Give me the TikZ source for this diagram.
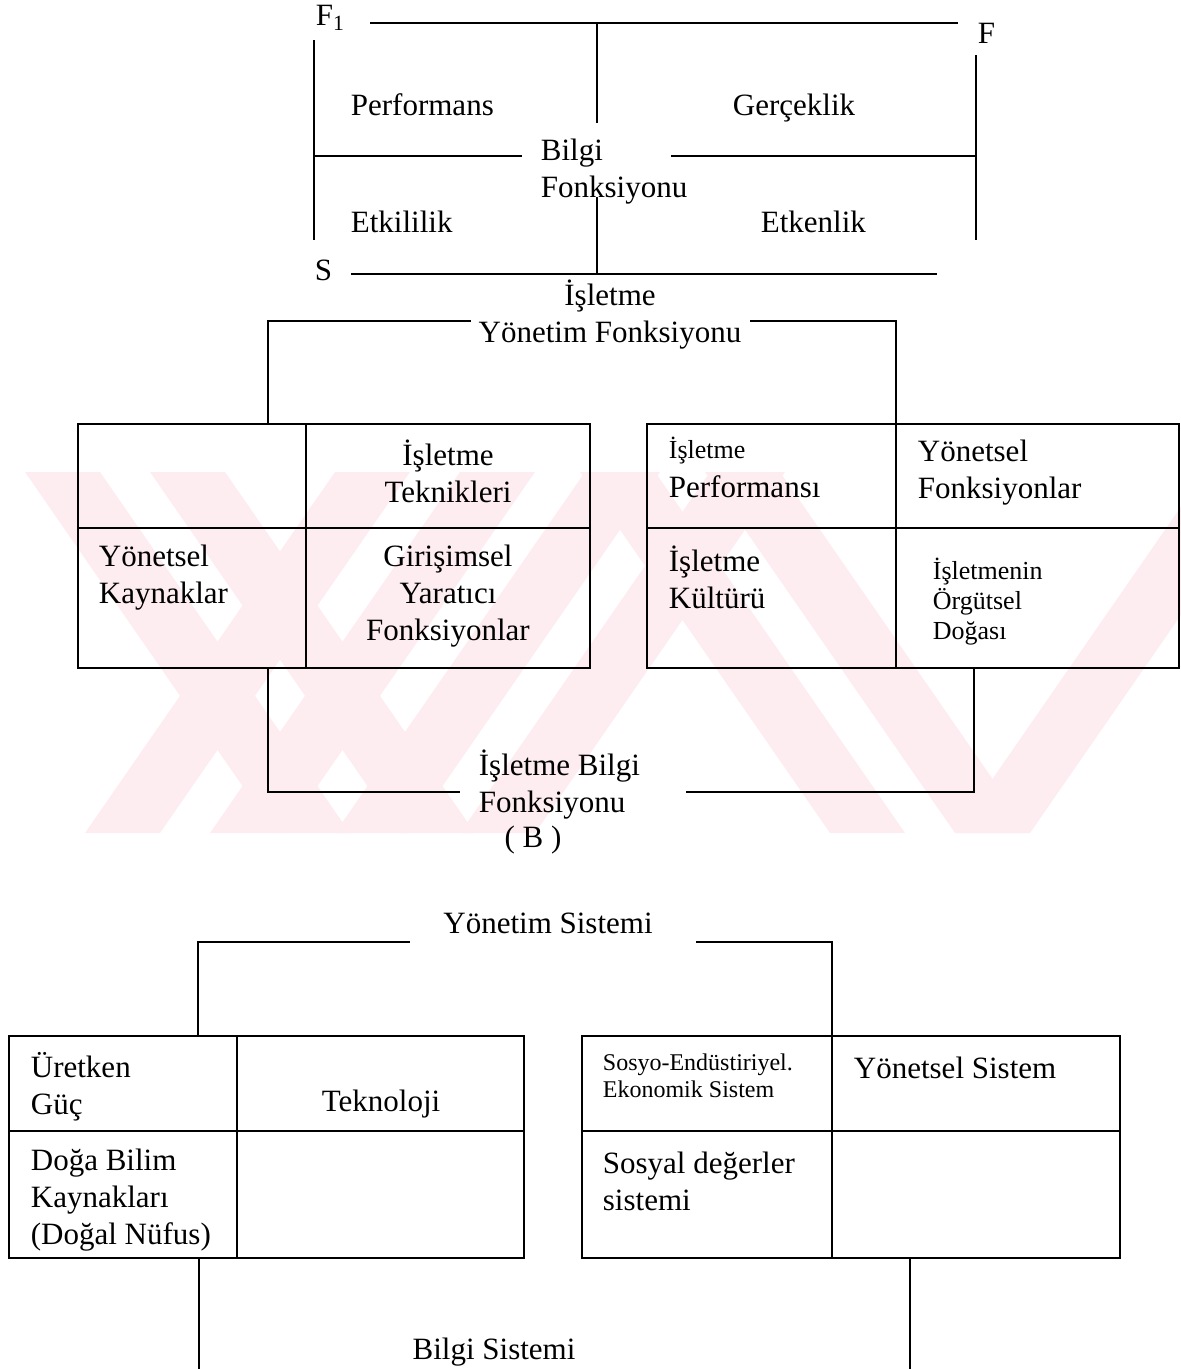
\documentclass[tikz,border=0pt]{standalone}
\usepackage{fontspec}
\setmainfont{Liberation Serif}
\definecolor{wmpink}{RGB}{253,236,240}

\begin{document}
\begin{tikzpicture}[x=0.5pt, y=-0.5pt, line width=0.9pt,
    lbl/.style={inner sep=0pt, align=left, font=\fontsize{15.5}{18.5}\selectfont},
    lblc/.style={lbl, align=center},
    small/.style={inner sep=0pt, align=left, font=\fontsize{13}{15}\selectfont},
    tiny/.style={inner sep=0pt, align=left, font=\fontsize{12}{13.5}\selectfont}]
    \useasboundingbox (0,0) rectangle (1181,1369);

    % Watermark stripes
    \begin{scope}
        \clip (0,472) rectangle (1181,833);
        \foreach \a in {25,150,580,705}
            \fill[wmpink] (\a,472) -- ++(75,0) -- ++(250,361) -- ++(-75,0) -- cycle;
        \foreach \b in {85,210,335,460,955}
            \fill[wmpink] (\b,833) -- ++(75,0) -- ++(250,-361) -- ++(-75,0) -- cycle;
    \end{scope}

    % Bilgi fonksiyonu frame
    \node[lbl, anchor=west] (fone) at (315,18) {F\textsubscript{1}};
    \node[lbl, anchor=west] (ftwo) at (977,33) {F};
    \node[lbl, anchor=west] (sbot) at (314,270) {S};
    \node[lbl, anchor=west] (perf) at (350,105) {Performans};
    \node[lbl, anchor=west] (gerc) at (732,108) {Gerçeklik};
    \node[lbl, anchor=west] (etki) at (350,222) {Etkililik};
    \node[lbl, anchor=west] (etke) at (760,222) {Etkenlik};
    \node[lbl, anchor=west] (bfon) at (540,172) {Bilgi\\Fonksiyonu};

    \coordinate (topL) at (370,23);
    \coordinate (topR) at (958,23);
    \coordinate (topM) at (597,23);
    \coordinate (midUp) at (597,123);
    \coordinate (midDn) at (597,197);
    \coordinate (botM) at (597,274);
    \coordinate (botL) at (351,274);
    \coordinate (botR) at (937,274);
    \coordinate (sideLa) at (314,40);
    \coordinate (sideLb) at (314,240);
    \coordinate (sideRa) at (976,55);
    \coordinate (sideRb) at (976,240);
    \coordinate (crossL) at (314,156);
    \coordinate (crossLe) at (522,156);
    \coordinate (crossRs) at (671,156);
    \coordinate (crossR) at (976,156);

    \draw (topL) -- (topR);
    \draw (botL) -- (botR);
    \draw (topM) -- (midUp);
    \draw (midDn) -- (botM);
    \draw (sideLa) -- (sideLb);
    \draw (sideRa) -- (sideRb);
    \draw (crossL) -- (crossLe);
    \draw (crossRs) -- (crossR);

    % Isletme yonetim fonksiyonu (B)
    \node[lblc] (ymf) at (610,315) {İşletme\\Yönetim Fonksiyonu};

    \draw (78,424) rectangle (590,668);
    \draw (306,424) -- (306,668);
    \draw (78,528) -- (590,528);
    \draw (647,424) rectangle (1179,668);
    \draw (896,424) -- (896,668);
    \draw (647,528) -- (1179,528);

    \node[lblc] (tekn) at (448,471) {İşletme\\Teknikleri};
    \node[lbl, anchor=west] (ykay) at (98,578) {Yönetsel\\Kaynaklar};
    \node[lblc] (giri) at (448,596) {Girişimsel\\Yaratıcı\\Fonksiyonlar};
    \node[small, anchor=west] (iperf) at (668,451) {İşletme};
    \node[lbl, anchor=west] (perfi) at (668,487) {Performansı};
    \node[lbl, anchor=west] (yfon) at (917,473) {Yönetsel\\Fonksiyonlar};
    \node[lbl, anchor=west] (kult) at (668,577) {İşletme\\Kültürü};
    \node[small, anchor=west] (orgd) at (932,602) {İşletmenin\\Örgütsel\\Doğası};
    \node[lbl, anchor=west] (ibf) at (478,785) {İşletme Bilgi\\Fonksiyonu};
    \node[lbl] (bee) at (533,840) {( B )};

    \coordinate (boxAtop) at (268,424);
    \coordinate (boxBtop) at (896,424);
    \coordinate (boxAbot) at (268,668);
    \coordinate (boxBbot) at (974,668);
    \coordinate (ymfL) at (471,321);
    \coordinate (ymfR) at (750,321);
    \coordinate (ibfL) at (460,792);
    \coordinate (ibfR) at (686,792);

    \draw (boxAtop) |- (ymfL);
    \draw (boxBtop) |- (ymfR);
    \draw (boxAbot) |- (ibfL);
    \draw (boxBbot) |- (ibfR);

    % Yonetim sistemi
    \node[lbl] (ysis) at (548,923) {Yönetim Sistemi};

    \draw (9,1036) rectangle (524,1258);
    \draw (237,1036) -- (237,1258);
    \draw (9,1131) -- (524,1131);
    \draw (582,1036) rectangle (1120,1258);
    \draw (832,1036) -- (832,1258);
    \draw (582,1131) -- (1120,1131);

    \node[lbl, anchor=west] (uret) at (30,1087) {Üretken\\Güç};
    \node[lbl] (tekno) at (381,1104) {Teknoloji};
    \node[lbl, anchor=west] (doga) at (30,1200) {Doğa Bilim\\Kaynakları\\(Doğal Nüfus)};
    \node[tiny, anchor=west] (sosyo) at (602,1076) {Sosyo-Endüstiriyel.\\Ekonomik Sistem};
    \node[lbl, anchor=west] (ysist) at (853,1068) {Yönetsel Sistem};
    \node[lbl, anchor=west] (sdeg) at (602,1181) {Sosyal değerler\\sistemi};
    \node[lbl] (bsis) at (494,1352) {Bilgi Sistemi};

    \coordinate (boxCtop) at (198,1036);
    \coordinate (boxDtop) at (832,1036);
    \coordinate (ysisL) at (410,942);
    \coordinate (ysisR) at (696,942);
    \coordinate (boxCbot) at (199,1258);
    \coordinate (boxDbot) at (910,1258);
    \coordinate (edgeC) at (199,1369);
    \coordinate (edgeD) at (910,1369);

    \draw (boxCtop) |- (ysisL);
    \draw (boxDtop) |- (ysisR);
    \draw (boxCbot) -- (edgeC);
    \draw (boxDbot) -- (edgeD);
\end{tikzpicture}
\end{document}
